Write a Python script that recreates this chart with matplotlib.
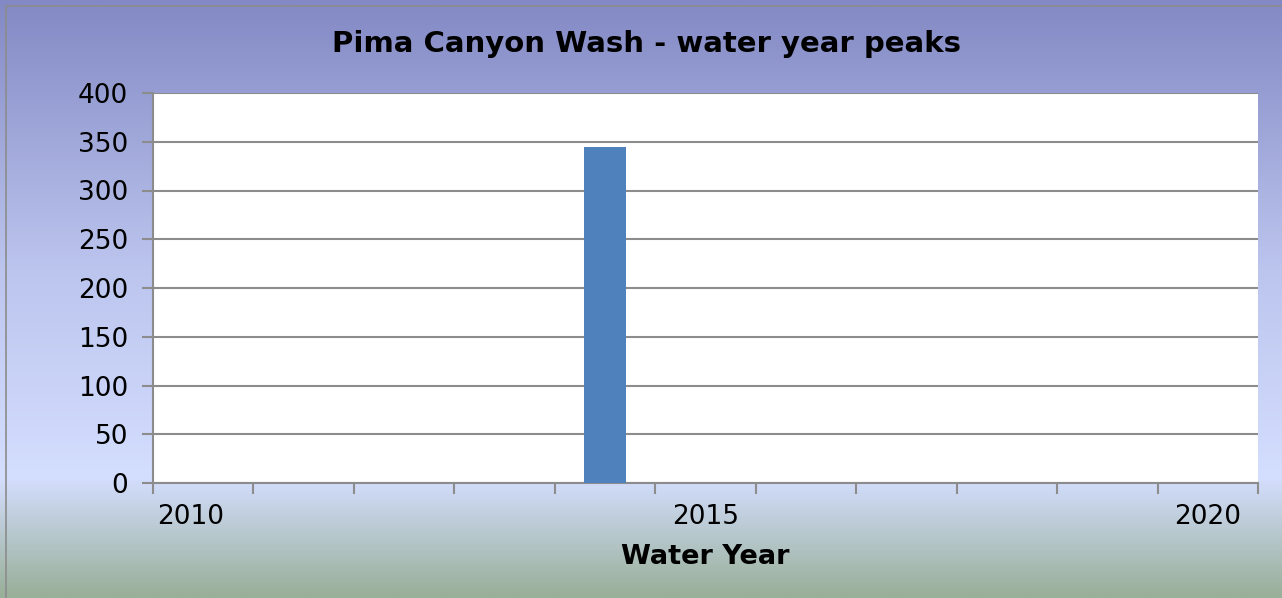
import numpy as np
import matplotlib.pyplot as plt
import matplotlib.transforms as mtransforms
from matplotlib.colors import LinearSegmentedColormap
from matplotlib.patches import Rectangle

plt.rcParams['font.family'] = ['DejaVu Sans']

# Данные
years = list(range(2010, 2021))
peaks = [0, 0, 0, 0, 345, 0, 0, 0, 0, 0, 0]
shown_labels = ['2010', '2015', '2020']
y_ticks = list(range(0, 401, 50))

fig = plt.figure(figsize=(12.82, 5.98), dpi=100)

# фон с градиентом
bg = fig.add_axes([0, 0, 1, 1], zorder=-1)
cmap = LinearSegmentedColormap.from_list(
    'bg', [(0.0, '#8389c4'), (0.45, '#bcc5ee'), (0.8, '#d4defe'), (1.0, '#98af98')])
grad = np.linspace(0, 1, 256).reshape(-1, 1)
bg.imshow(grad, aspect='auto', cmap=cmap, extent=[0, 1, 0, 1], origin='upper')
bg.add_patch(Rectangle((6 / 1282, -0.01), 1.1, 1.01 - 6 / 598, fill=False,
                       edgecolor='#8c8c8c', linewidth=1.2))
bg.set_xlim(0, 1)
bg.set_ylim(0, 1)
bg.axis('off')

ax = fig.add_axes([153 / 1282, 1 - 483 / 598, (1258 - 153) / 1282, (483 - 93) / 598])
ax.set_facecolor('white')
x = np.arange(len(years))
ax.bar(x, peaks, width=0.41, color='#4f81bd', linewidth=0, zorder=3)

ax.set_xlim(-0.5, len(years) - 0.5)
ax.set_ylim(0, 400)
ax.set_yticks(y_ticks)
ax.set_yticklabels([str(v) for v in y_ticks], fontsize=19)
ax.yaxis.grid(True, color='#8c8c8c', linewidth=1.5, zorder=1)
ax.set_axisbelow(True)

# деления на границах категорий, подписи только у 2010/2015/2020
ax.set_xticks(np.arange(-0.5, len(years), 1.0))
ax.set_xticklabels([])
ax.set_xticks([0, 5, 10], minor=True)
ax.set_xticklabels(shown_labels, minor=True, fontsize=19)
ax.tick_params(axis='x', which='major', length=8, width=1.5, color='#8c8c8c')
ax.tick_params(axis='x', which='minor', length=0, pad=15)
ax.tick_params(axis='y', length=8, width=1.5, color='#8c8c8c', pad=10)

# первая подпись в оригинале сдвинута влево
lbl0 = ax.get_xticklabels(minor=True)[0]
lbl0.set_transform(lbl0.get_transform() +
                   mtransforms.ScaledTranslation(-13 / 100, 0, fig.dpi_scale_trans))

for s in ['top', 'right']:
    ax.spines[s].set_visible(False)
for s in ['left', 'bottom']:
    ax.spines[s].set_color('#8c8c8c')
    ax.spines[s].set_linewidth(1.5)

ax.set_xlabel('Water Year', fontsize=19.5, fontweight='bold', labelpad=10)
fig.text(647 / 1282, 1 - 44 / 598, 'Pima Canyon Wash - water year peaks',
         ha='center', va='center', fontsize=21, fontweight='bold')

fig.savefig('out.png', dpi=100)
